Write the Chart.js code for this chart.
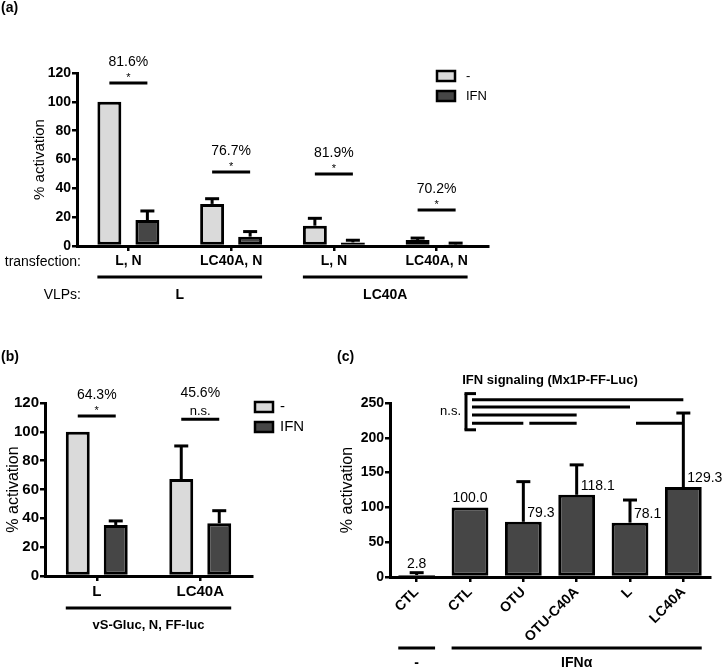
<!DOCTYPE html>
<html>
<head>
<meta charset="utf-8">
<script src="https://cdn.jsdelivr.net/npm/chart.js@4.4.1/dist/chart.umd.min.js"></script>
<style>
  body { margin: 0; background: #fff; }
  #page { position: relative; width: 724px; height: 670px; overflow: hidden; font-family: "Liberation Sans", Arial, sans-serif; }
  .panel { position: absolute; }
  .tag { position: absolute; font-weight: bold; font-size: 14px; line-height: 16px; }
</style>
</head>
<body>
<div id="page">
  <div class="panel" style="left:0;top:0;width:500px;height:330px"><canvas id="chartA"></canvas></div>
  <div class="panel" style="left:0;top:330px;width:330px;height:340px"><canvas id="chartB"></canvas></div>
  <div class="panel" style="left:330px;top:330px;width:394px;height:340px"><canvas id="chartC"></canvas></div>
  <div class="tag" style="left:1px;top:-1px">(a)</div>
  <div class="tag" style="left:1px;top:348px">(b)</div>
  <div class="tag" style="left:337px;top:348px">(c)</div>
</div>
<script>
// series names shared by (a) and (b)
const SERIES = ["-", "IFN"];

// (a) VLP assay
const A_TRANSFECTION = ["L, N", "LC40A, N", "L, N", "LC40A, N"];
const A_MOCK = [100, 29.2, 14.1, 4.2];
const A_MOCK_ERR = [0, 3.6, 5.1, 1.3];
const A_IFN = [18, 6.5, 2.5, 1.1];
const A_IFN_ERR = [6.3, 3.5, 1.5, 0.9];
const A_VLPS = ["L", "LC40A"];
const A_VLP_SPANS = [[0, 1], [2, 3]];
const A_REDUCTION = ["81.6%", "76.7%", "81.9%", "70.2%"];
const A_SIGNIF = ["*", "*", "*", "*"];
const A_SIGNIF_Y = [113, 51.4, 50, 25];

// (b) minigenome assay
const B_CATEGORIES = ["L", "LC40A"];
const B_MOCK = [100, 67.2];
const B_MOCK_ERR = [0, 23];
const B_IFN = [35.4, 36.6];
const B_IFN_ERR = [2.8, 8.7];
const B_REDUCTION = ["64.3%", "45.6%"];
const B_SIGNIF = ["*", "n.s."];
const B_SIGNIF_Y = [111, 108.7];

// (c) IFN signaling
const C_CATEGORIES = ["CTL", "CTL", "OTU", "OTU-C40A", "L", "LC40A"];
const C_VALUES = [2.8, 100.0, 79.3, 118.1, 78.1, 129.3];
const C_ERR = [3.4, 0, 57.7, 43, 32.5, 106.3];
const C_TREATMENT = ["-", "IFN\u03b1"];
const C_TREATMENT_SPANS = [[0, 0], [1, 5]];
const C_COMPARISONS = [[1, 5], [1, 4], [1, 3], [1, 2], [2, 3], [4, 5]];
const C_COMPARISON_Y = [254.8, 244.2, 232.6, 221, 221, 221];
const C_BRACKET = [211.5, 263.5];

const FAMILY = "'Liberation Sans', Arial, sans-serif";
const LIGHT = "#dadada";
const DARK = "#464646";

Chart.defaults.font.family = FAMILY;
Chart.defaults.color = "#000";
Chart.defaults.animation = false;
Chart.defaults.responsive = true;
Chart.defaults.maintainAspectRatio = false;
Chart.defaults.plugins.legend.display = false;
Chart.defaults.plugins.tooltip.enabled = false;

function font(size, bold) {
    return (bold ? "bold " : "") + size + "px " + FAMILY;
}

// axes in the prism style: thick black lines, ticks outside, no grid
function axes(o) {
    return {
        x: {
            afterFit: s => { s.height = o.xHeight; },
            border: { color: "#000", width: 3 },
            grid: { drawOnChartArea: false, offset: false, color: "#000", lineWidth: 2.5, tickLength: 5 },
            ticks: { font: { size: o.xFont, weight: "bold" }, padding: 2, autoSkip: false,
                     maxRotation: o.rotate || 0, minRotation: o.rotate || 0 }
        },
        y: {
            min: 0,
            max: o.max,
            afterFit: s => { s.width = o.yWidth; },
            border: { color: "#000", width: 3 },
            grid: { drawOnChartArea: false, color: "#000", lineWidth: 2.5, tickLength: 5 },
            ticks: { stepSize: o.step, font: { size: o.yFont, weight: "bold" }, padding: 1 },
            title: { display: true, text: "% activation", font: { size: o.titleFont }, padding: { top: 4, bottom: 0 } }
        }
    };
}

// everything the bar chart does not draw itself
function extras(cfg) {
    return {
        id: "extras",
        afterDraw(chart) {
            const ctx = chart.ctx;
            const ys = chart.scales.y;
            const area = chart.chartArea;
            const metas = chart.data.datasets.map((d, i) => chart.getDatasetMeta(i));

            const seg = (x0, y0, x1, y1, w) => {
                ctx.lineWidth = w;
                ctx.beginPath();
                ctx.moveTo(x0, y0);
                ctx.lineTo(x1, y1);
                ctx.stroke();
            };
            const text = (s, x, y, f, align) => {
                ctx.font = f;
                ctx.textAlign = align || "center";
                ctx.fillText(s, x, y);
            };

            ctx.save();
            ctx.strokeStyle = "#000";
            ctx.fillStyle = "#000";
            ctx.textBaseline = "middle";

            // error bars, upper whisker only
            cfg.errors.forEach((errs, d) => metas[d].data.forEach((bar, i) => {
                if (!errs[i]) return;
                const top = ys.getPixelForValue(chart.data.datasets[d].data[i] + errs[i]);
                seg(bar.x, bar.y, bar.x, top, 3);
                seg(bar.x - 7, top, bar.x + 7, top, 3);
            }));

            // pairwise significance between the two series
            if (cfg.signif) {
                cfg.signif.y.forEach((v, i) => {
                    const x0 = metas[0].data[i].x;
                    const x1 = metas[1].data[i].x;
                    const py = ys.getPixelForValue(v);
                    const cx = (x0 + x1) / 2;
                    const mark = cfg.signif.marks[i];
                    seg(x0, py, x1, py, 3);
                    if (mark === "*") {
                        text(cfg.signif.labels[i], cx, py - 21, font(14));
                        text("*", cx, py - 5, font(11));
                    } else {
                        text(cfg.signif.labels[i], cx, py - 26, font(14));
                        text(mark, cx, py - 8, font(13));
                    }
                });
            }

            // legend
            if (cfg.legend) {
                const lg = cfg.legend;
                chart.data.datasets.forEach((ds, i) => {
                    const cy = lg.y + i * 20;
                    ctx.fillStyle = ds.backgroundColor;
                    ctx.fillRect(lg.x, cy - 5, 18, 10);
                    ctx.lineWidth = 2.5;
                    ctx.strokeRect(lg.x, cy - 5, 18, 10);
                    ctx.fillStyle = "#000";
                    text(ds.label, lg.x + 18 + lg.gap, cy, font(lg.size), "left");
                });
            }

            // grouping rows under the x axis
            (cfg.rows || []).forEach(row => {
                const yLine = area.bottom + row.line;
                const yText = area.bottom + row.text;
                row.names.forEach((name, g) => {
                    const [c0, c1] = row.spans[g];
                    const first = metas[0].data[c0];
                    const last = metas[metas.length - 1].data[c1];
                    const x0 = first.x - first.width / 2;
                    const x1 = last.x + last.width / 2;
                    seg(x0, yLine, x1, yLine, 3);
                    text(name, (x0 + x1) / 2, yText, font(row.size, true));
                });
            });
            (cfg.rowTitles || []).forEach(t => {
                text(t.text, t.x, area.bottom + t.dy, font(14), "right");
            });

            // value labels on single-series bars
            if (cfg.values) {
                metas[0].data.forEach((bar, i) => {
                    const v = chart.data.datasets[0].data[i];
                    const top = ys.getPixelForValue(v + cfg.errors[0][i]);
                    const label = v.toFixed(1);
                    if (bar.y - top < 15) {
                        text(label, bar.x, top - 9, font(14));
                    } else {
                        text(label, bar.x + 4, bar.y - 9, font(14), "left");
                    }
                });
            }

            // multiple comparison bracket
            if (cfg.comparisons) {
                const cmp = cfg.comparisons;
                const d = metas[0].data;
                cmp.pairs.forEach((p, i) => {
                    const py = ys.getPixelForValue(cmp.y[i]);
                    const x0 = d[p[0]].x + (p[0] === cmp.ref ? 2 : 6);
                    seg(x0, py, d[p[1]].x, py, 3);
                });
                const bx = d[cmp.ref].x - 4;
                const b0 = ys.getPixelForValue(cmp.bracket[0]);
                const b1 = ys.getPixelForValue(cmp.bracket[1]);
                seg(bx, b0, bx, b1, 3);
                seg(bx - 1.5, b0, bx + 10, b0, 3);
                seg(bx - 1.5, b1, bx + 10, b1, 3);
                text(cmp.label, bx - 5, (b0 + b1) / 2, font(13), "right");
            }

            if (cfg.title) {
                text(cfg.title, (area.left + area.right) / 2, area.top - 23, font(13, true));
            }

            ctx.restore();
        }
    };
}

const BAR_STYLE = { borderColor: "#000", borderWidth: 3, borderSkipped: false };

// (a)
new Chart(document.getElementById("chartA"), {
    type: "bar",
    data: {
        labels: A_TRANSFECTION,
        datasets: [
            { label: SERIES[0], data: A_MOCK, backgroundColor: LIGHT },
            { label: SERIES[1], data: A_IFN, backgroundColor: DARK }
        ]
    },
    options: {
        layout: { padding: { left: 27, top: 73, right: 12, bottom: 0 } },
        datasets: { bar: Object.assign({ categoryPercentage: 0.74, barPercentage: 0.63 }, BAR_STYLE) },
        scales: axes({ max: 120, step: 20, yWidth: 50, xHeight: 84, xFont: 14, yFont: 14, titleFont: 15 })
    },
    plugins: [extras({
        errors: [A_MOCK_ERR, A_IFN_ERR],
        signif: { y: A_SIGNIF_Y, labels: A_REDUCTION, marks: A_SIGNIF },
        legend: { x: 437, y: 76, gap: 11, size: 13 },
        rows: [{ names: A_VLPS, spans: A_VLP_SPANS, line: 31, text: 49, size: 14 }],
        rowTitles: [{ text: "transfection:", x: 81, dy: 16 }, { text: "VLPs:", x: 81, dy: 49 }]
    })]
});

// (b)
new Chart(document.getElementById("chartB"), {
    type: "bar",
    data: {
        labels: B_CATEGORIES,
        datasets: [
            { label: SERIES[0], data: B_MOCK, backgroundColor: LIGHT },
            { label: SERIES[1], data: B_IFN, backgroundColor: DARK }
        ]
    },
    options: {
        layout: { padding: { left: 0, top: 73, right: 78, bottom: 0 } },
        datasets: { bar: Object.assign({ categoryPercentage: 0.734, barPercentage: 0.63 }, BAR_STYLE) },
        scales: axes({ max: 120, step: 20, yWidth: 45, xHeight: 94, xFont: 15, yFont: 15, titleFont: 16 })
    },
    plugins: [extras({
        errors: [B_MOCK_ERR, B_IFN_ERR],
        signif: { y: B_SIGNIF_Y, labels: B_REDUCTION, marks: B_SIGNIF },
        legend: { x: 255, y: 77, gap: 7, size: 15 },
        rows: [{ names: ["vS-Gluc, N, FF-luc"], spans: [[0, 1]], line: 32, text: 49, size: 13 }]
    })]
});

// (c)
new Chart(document.getElementById("chartC"), {
    type: "bar",
    data: {
        labels: C_CATEGORIES,
        datasets: [{ label: "IFN signaling", data: C_VALUES, backgroundColor: DARK }]
    },
    options: {
        layout: { padding: { left: 4, top: 73, right: 14, bottom: 0 } },
        datasets: { bar: Object.assign({ categoryPercentage: 1, barPercentage: 0.69 }, BAR_STYLE) },
        scales: axes({ max: 250, step: 50, yWidth: 56, xHeight: 93, xFont: 14, yFont: 14, titleFont: 16, rotate: 45 })
    },
    plugins: [extras({
        errors: [C_ERR],
        values: true,
        rows: [{ names: C_TREATMENT, spans: C_TREATMENT_SPANS, line: 71, text: 86, size: 14 }],
        comparisons: { pairs: C_COMPARISONS, y: C_COMPARISON_Y, bracket: C_BRACKET, ref: 1, label: "n.s." },
        title: "IFN signaling (Mx1P-FF-Luc)"
    })]
});
</script>
</body>
</html>
